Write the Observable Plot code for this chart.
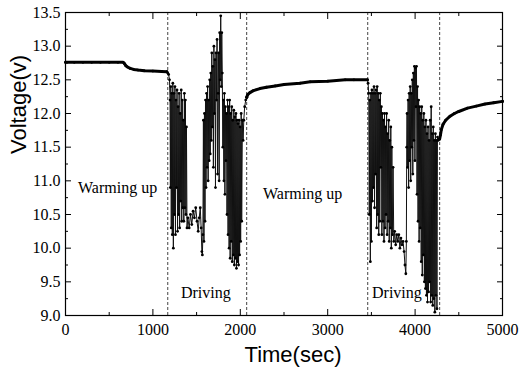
<!DOCTYPE html>
<html>
<head>
<meta charset="utf-8">
<script src="https://cdn.jsdelivr.net/npm/d3@7"></script>
<script src="https://cdn.jsdelivr.net/npm/@observablehq/plot@0.6"></script>
<style>
  html, body { margin: 0; padding: 0; background: #fff; }
  #chart svg { display: block; }
</style>
</head>
<body>
<div id="chart"></div>
<script>
// [time (sec), voltage (V)]
const warmup1 = [[0,12.76],[100,12.76],[200,12.76],[300,12.76],[400,12.76],[500,12.76],[600,12.76],[660,12.76],[675,12.74],[690,12.71],[710,12.69],[740,12.67],[780,12.655],[830,12.645],[900,12.635],[1000,12.63],[1100,12.625],[1160,12.62]];

const driving1 = [[1170,12.60],[1180,12.58],[1190,12.5],[1196,12.2],[1200,10.9],[1205,12.4],[1210,10.3],[1216,12.3],[1222,10.2],[1228,12.45],[1234,10.0],[1240,12.3],[1246,10.5],[1252,12.4],[1258,10.2],[1264,12.2],[1270,10.9],[1276,12.35],[1282,10.25],[1288,12.1],[1294,10.5],[1300,12.3],[1306,10.3],[1312,12.0],[1318,10.7],[1324,12.35],[1330,10.4],[1336,12.2],[1342,10.6],[1348,11.9],[1354,10.4],[1360,12.3],[1366,10.6],[1372,12.2],[1378,10.5],[1384,11.8],[1390,10.3],[1400,10.45],[1415,10.3],[1430,10.5],[1445,10.35],[1460,10.55],[1475,10.45],[1490,10.6],[1505,10.4],[1518,10.25],[1530,10.45],[1542,10.6],[1552,10.3],[1560,9.95],[1566,9.9],[1572,10.2],[1578,11.9],[1584,10.1],[1590,12.0],[1596,10.4],[1602,12.2],[1608,10.9],[1614,12.3],[1620,11.2],[1626,12.4],[1632,11.0],[1638,12.2],[1644,11.3],[1650,12.5],[1656,11.4],[1662,12.6],[1668,11.6],[1674,12.9],[1680,11.8],[1686,12.7],[1692,11.2],[1698,13.0],[1704,12.0],[1710,12.8],[1716,10.9],[1722,12.9],[1728,12.2],[1734,13.1],[1740,11.1],[1746,12.3],[1752,12.9],[1758,11.0],[1764,13.2],[1770,12.5],[1776,13.45],[1782,12.4],[1788,13.2],[1794,12.6],[1800,11.5],[1806,12.2],[1812,11.0],[1818,12.3],[1824,10.8],[1830,12.1],[1836,11.3],[1842,12.0],[1848,10.5],[1854,12.2],[1860,10.2],[1866,12.1],[1872,10.0],[1878,12.2],[1884,9.85],[1890,12.0],[1896,10.1],[1902,12.1],[1908,9.8],[1914,11.9],[1920,9.9],[1926,12.05],[1932,9.75],[1938,11.95],[1944,9.85],[1950,12.0],[1956,9.7],[1962,11.9],[1968,9.8],[1974,11.85],[1980,9.75],[1986,11.9],[1992,9.9],[1998,11.8],[2004,10.1],[2010,12.0],[2016,10.4],[2024,11.9],[2032,11.6],[2040,11.9],[2050,12.1],[2062,12.2],[2073,12.24]];

const warmup2 = [[2073,12.24],[2085,12.28],[2110,12.31],[2150,12.34],[2225,12.37],[2300,12.39],[2400,12.41],[2500,12.43],[2683,12.45],[2800,12.47],[3000,12.48],[3200,12.5],[3300,12.5],[3455,12.5]];

const driving2 = [[3462,12.45],[3470,12.3],[3476,10.5],[3482,12.2],[3488,9.8],[3494,12.3],[3500,10.1],[3506,12.35],[3512,10.7],[3518,12.3],[3524,10.9],[3530,12.4],[3536,10.6],[3542,12.3],[3548,11.1],[3554,12.35],[3560,10.3],[3566,12.4],[3572,10.5],[3578,12.3],[3584,10.2],[3590,12.2],[3596,10.4],[3602,12.3],[3608,11.2],[3614,12.1],[3620,10.2],[3626,12.0],[3632,10.4],[3638,11.9],[3644,10.1],[3650,12.0],[3656,10.3],[3662,11.8],[3668,10.5],[3674,12.0],[3680,10.2],[3686,11.7],[3692,10.4],[3698,11.9],[3704,10.1],[3710,11.6],[3716,10.3],[3722,11.8],[3728,10.0],[3734,11.5],[3740,10.2],[3748,11.2],[3756,10.1],[3766,10.25],[3778,10.05],[3790,10.2],[3802,10.1],[3814,10.2],[3826,10.0],[3838,10.15],[3850,10.05],[3862,10.1],[3874,9.95],[3884,9.75],[3894,9.62],[3900,10.1],[3904,11.5],[3908,12.0],[3914,11.2],[3920,12.2],[3926,10.9],[3932,12.3],[3938,11.3],[3944,12.4],[3950,11.0],[3956,12.3],[3962,11.5],[3968,12.5],[3974,11.1],[3980,12.6],[3986,11.6],[3992,12.7],[3998,11.3],[4004,12.68],[4010,12.1],[4016,12.7],[4022,10.8],[4028,12.4],[4034,10.4],[4040,12.2],[4046,10.1],[4052,12.1],[4058,10.3],[4064,12.0],[4070,9.8],[4076,12.1],[4082,9.6],[4088,11.9],[4094,9.9],[4100,12.0],[4106,9.5],[4112,11.8],[4118,9.4],[4124,11.9],[4130,9.3],[4136,11.7],[4142,9.2],[4148,11.8],[4154,9.35],[4160,11.6],[4166,9.5],[4172,11.9],[4178,9.2],[4184,12.1],[4190,9.3],[4196,11.7],[4202,9.15],[4208,11.8],[4214,9.25],[4220,11.6],[4226,9.05],[4232,11.7],[4238,9.3],[4244,11.6],[4250,9.1],[4256,11.65],[4264,11.6],[4272,11.62],[4281,11.62]];

const warmup3 = [[4281,11.62],[4290,11.68],[4300,11.76],[4320,11.84],[4350,11.9],[4400,11.96],[4450,12.0],[4500,12.03],[4600,12.08],[4700,12.11],[4800,12.14],[4900,12.16],[5000,12.18]];

const phaseBoundaries = [1170, 2073, 3458, 4281];
const phaseLabels = ["Warming up", "Driving", "Warming up", "Driving"];
const phaseLabelTime = [143, 1321, 2260, 3507];
const phaseLabelVolt = [10.9, 9.33, 10.81, 9.33];

const xMajorTicks = [0, 1000, 2000, 3000, 4000, 5000];
const xMinorTicks = [500, 1500, 2500, 3500, 4500];
const yMajorTicks = [9.0, 9.5, 10.0, 10.5, 11.0, 11.5, 12.0, 12.5, 13.0, 13.5];
const yMinorTicks = [9.25, 9.75, 10.25, 10.75, 11.25, 11.75, 12.25, 12.75, 13.25];

const series = [...warmup1, ...driving1, ...warmup2, ...driving2, ...warmup3].map(([t, v]) => ({t, v}));
const warmSeries = [warmup1, warmup2, warmup3].flatMap((seg, k) => seg.map(([t, v]) => ({t, v, k})));
const labels = phaseLabels.map((text, i) => ({text, t: phaseLabelTime[i], v: phaseLabelVolt[i]}));

const serif = "'Liberation Serif', 'Times New Roman', serif";
const sans = "'Liberation Sans', Arial, sans-serif";
const blank = () => "";

const chart = Plot.plot({
  width: 521,
  height: 372,
  marginLeft: 65,
  marginRight: 19,
  marginTop: 12,
  marginBottom: 57,
  style: {fontFamily: serif, fontSize: "16px", color: "#000", background: "#fff"},
  x: {domain: [0, 5000]},
  y: {domain: [9, 13.5]},
  marks: [
    Plot.ruleX(phaseBoundaries, {stroke: "#444", strokeWidth: 1, strokeDasharray: "3,2"}),
    Plot.line(series, {x: "t", y: "v", stroke: "#111", strokeWidth: 1}),
    Plot.line(warmSeries, {x: "t", y: "v", z: "k", stroke: "#000", strokeWidth: 3}),
    Plot.dot(series, {x: "t", y: "v", r: 1.4, fill: "#000", stroke: "none"}),
    Plot.text(labels, {x: "t", y: "v", text: "text", textAnchor: "start", lineAnchor: "middle", fontFamily: serif, fontSize: 16, fill: "#000"}),
    // tick labels
    Plot.axisX(xMajorTicks, {anchor: "bottom", tickSize: 0, tickPadding: 8, tickFormat: d => String(d), label: null, fontFamily: serif, fontSize: 16}),
    Plot.axisY(yMajorTicks, {anchor: "left", tickSize: 0, tickPadding: 5, tickFormat: d3.format(".1f"), label: null, fontFamily: serif, fontSize: 16}),
    // inward ticks
    Plot.axisX(xMajorTicks, {anchor: "bottom", tickSize: -6, tickFormat: blank, label: null}),
    Plot.axisX(xMinorTicks, {anchor: "bottom", tickSize: -3, tickFormat: blank, label: null}),
    Plot.axisX(xMajorTicks, {anchor: "top", tickSize: -6, tickFormat: blank, label: null}),
    Plot.axisX(xMinorTicks, {anchor: "top", tickSize: -3, tickFormat: blank, label: null}),
    Plot.axisY(yMajorTicks, {anchor: "left", tickSize: -6, tickFormat: blank, label: null}),
    Plot.axisY(yMinorTicks, {anchor: "left", tickSize: -3, tickFormat: blank, label: null}),
    Plot.axisY(yMajorTicks, {anchor: "right", tickSize: -6, tickFormat: blank, label: null}),
    Plot.axisY(yMinorTicks, {anchor: "right", tickSize: -3, tickFormat: blank, label: null}),
    Plot.frame({stroke: "#000", strokeWidth: 1.2}),
    // axis titles
    Plot.text(["Time(sec)"], {frameAnchor: "bottom", dx: 9, dy: 46, text: d => d, fontFamily: sans, fontSize: 22, fill: "#000"}),
    Plot.text(["Voltage(v)"], {frameAnchor: "left", dx: -47, dy: -10, rotate: -90, text: d => d, fontFamily: sans, fontSize: 22, fill: "#000"})
  ]
});

document.getElementById("chart").appendChild(chart);
</script>
</body>
</html>
